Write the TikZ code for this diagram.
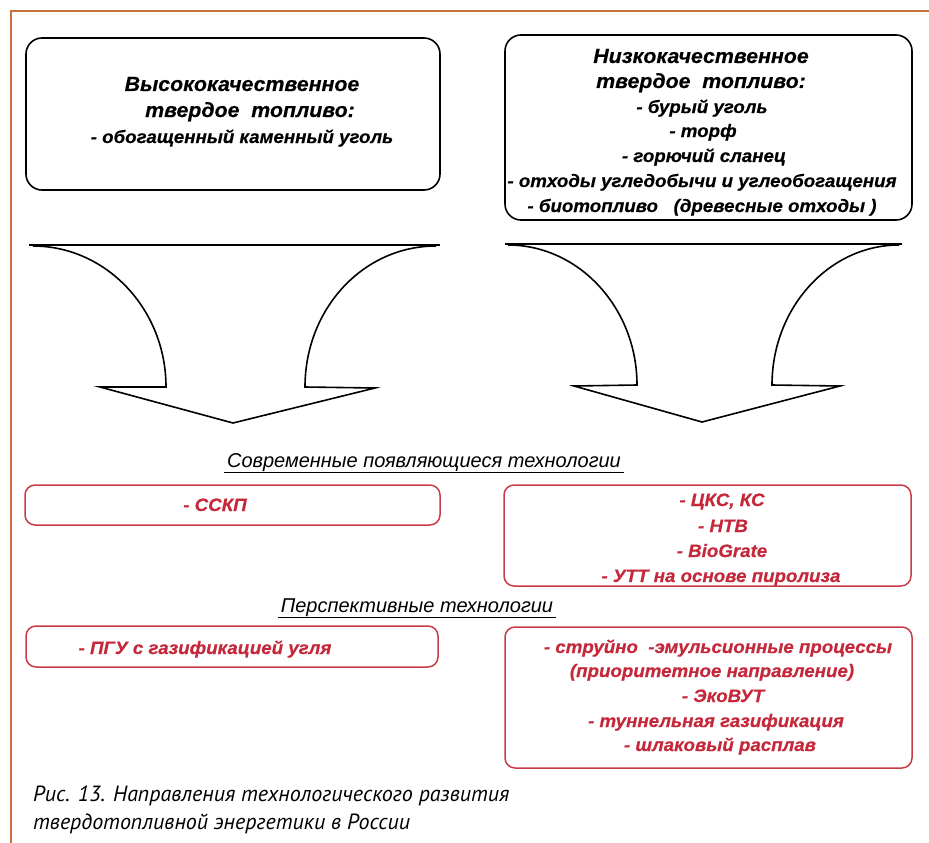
\documentclass[tikz,border=0pt]{standalone}
\usepackage{fontspec}
\newfontfamily\bfont[FakeStretch=1.04,FakeBold=0.4]{Liberation Sans}
\newfontfamily\lfont{Liberation Sans}
\newfontfamily\cfont{PT Sans}
\definecolor{frameorange}{RGB}{200,112,58}
\definecolor{redtxt}{RGB}{196,40,58}
\definecolor{redline}{RGB}{200,60,72}
\tikzset{
  blackbox/.style={draw=black, line width=1.6pt, rounded corners=16pt, inner sep=0pt},
  redbox/.style={draw=redline, line width=1.5pt, rounded corners=10pt, inner sep=0pt},
  ttl/.style={font=\bfont\bfseries\itshape\fontsize{20.5}{24}\selectfont, anchor=base, inner sep=0pt},
  subl/.style={font=\bfont\bfseries\itshape\fontsize{18}{21}\selectfont, anchor=base, inner sep=0pt},
  rsub/.style={subl, text=redtxt},
  lab/.style={font=\lfont\itshape\fontsize{20}{24}\selectfont, anchor=base, inner sep=0pt},
  captxt/.style={font=\cfont\itshape\fontsize{22}{26}\selectfont, anchor=base west, inner sep=0pt},
  bigarrow/.style={draw=black, line width=1.6pt, line join=miter},
}
\begin{document}
\begin{tikzpicture}[x=1pt,y=-1pt]
\useasboundingbox (0,0) rectangle (929,843);
% frame
\coordinate (fr0) at (10,11);
\coordinate (fr1) at (929,11);
\coordinate (fr2) at (11,843);
\draw[frameorange, line width=2.6pt] (fr1) -- (fr0 -| fr2) -- (fr2);

% top boxes
\node[blackbox, minimum width=414pt, minimum height=152pt] (hq) at (233,114) {};
\node[ttl] (hq1) at (242,91) {Высококачественное};
\node[ttl] (hq2) at (250,117) {твердое\ \ топливо:};
\node[subl] (hq3) at (242,143) {- обогащенный каменный уголь};

\node[blackbox, minimum width=407pt, minimum height=185pt] (lq) at (708.5,127.5) {};
\node[ttl] (lq1) at (701,63) {Низкокачественное};
\node[ttl] (lq2) at (701,88) {твердое\ \ топливо:};
\node[subl] (lq3) at (702,113) {- бурый уголь};
\node[subl] (lq4) at (703,137) {- торф};
\node[subl] (lq5) at (704,162) {- горючий сланец};
\node[subl] (lq6) at (702,187) {- отходы угледобычи и углеобогащения};
\node[subl] (lq7) at (702,212) {- биотопливо\ \ \ (древесные отходы )};

% big arrows
\draw[bigarrow] (29,245) -- (440,245);
\draw[bigarrow] (33,246) .. controls (106,246) and (166,309) .. (166,387)
  -- (100,387) -- (233,423) -- (375,388) -- (305,387)
  .. controls (305,309) and (363,246) .. (436,246);
\draw[bigarrow] (505,244) -- (902,244);
\draw[bigarrow] (508,245) .. controls (579,245) and (637,308) .. (637,385)
  -- (574,386) -- (702,422) -- (840,386) -- (772,385)
  .. controls (772,308) and (829,245) .. (899,245);

% labels
\node[lab] (cur) at (424,467) {Современные появляющиеся технологии};
\draw[line width=1pt] ([xshift=-3pt,yshift=-5pt]cur.base west) -- ([xshift=3pt,yshift=-5pt]cur.base east);
\node[lab] (per) at (417,612) {Перспективные технологии};
\draw[line width=1pt] ([xshift=-3pt,yshift=-5pt]per.base west) -- ([xshift=3pt,yshift=-5pt]per.base east);

% red boxes
\node[redbox, minimum width=415pt, minimum height=40pt] (r1) at (232.5,505) {};
\node[rsub] (r1a) at (215,511) {- ССКП};

\node[redbox, minimum width=407pt, minimum height=101pt] (r2) at (707.5,535.5) {};
\node[rsub] (r2a) at (722,506) {- ЦКС, КС};
\node[rsub] (r2b) at (723,532) {- НТВ};
\node[rsub] (r2c) at (722,557) {- BioGrate};
\node[rsub] (r2d) at (721,582) {- УТТ на основе пиролиза};

\node[redbox, minimum width=412pt, minimum height=41pt] (r3) at (232,646.5) {};
\node[rsub] (r3a) at (205,654) {- ПГУ с газификацией угля};

\node[redbox, minimum width=407pt, minimum height=141pt] (r4) at (708.5,697.5) {};
\node[rsub] (r4a) at (718,653) {- струйно\ \ -эмульсионные процессы};
\node[rsub] (r4b) at (712,677) {(приоритетное направление)};
\node[rsub] (r4c) at (723,702) {- ЭкоВУТ};
\node[rsub] (r4d) at (716,727) {- туннельная газификация};
\node[rsub] (r4e) at (720,751) {- шлаковый расплав};

% caption
\node[captxt] (cap1) at (33,801) {Рис. 13. Направления технологического развития};
\node[captxt] (cap2) at (33,829) {твердотопливной энергетики в России};
\end{tikzpicture}
\end{document}
